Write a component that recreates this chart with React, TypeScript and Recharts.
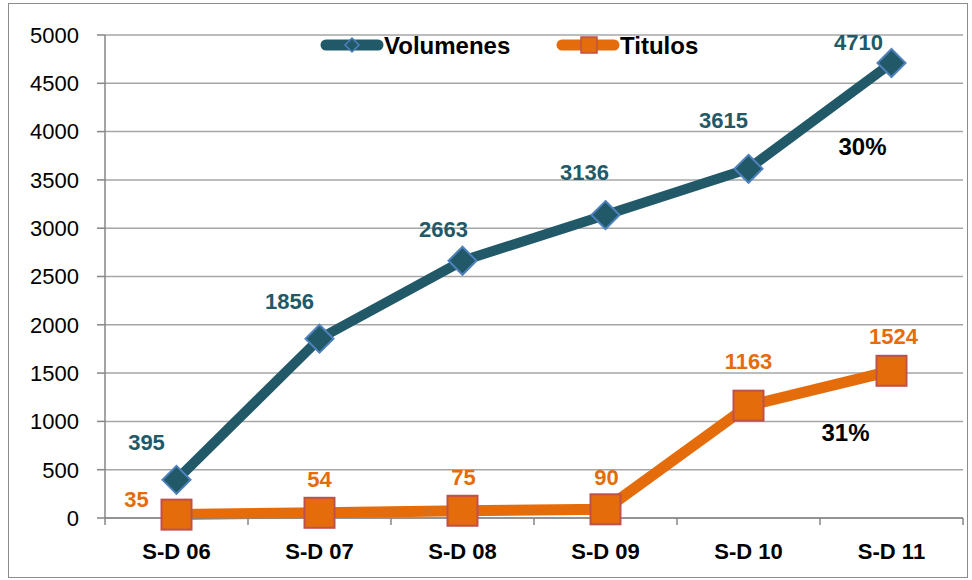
import React from 'react';
import { LineChart, Line, XAxis, YAxis, CartesianGrid, ReferenceDot, Customized } from 'recharts';

const categories = ['S-D 06', 'S-D 07', 'S-D 08', 'S-D 09', 'S-D 10', 'S-D 11'];
const volumenes = [395, 1856, 2663, 3136, 3615, 4710];
const titulos = [35, 54, 75, 90, 1163, 1524];
const yTicks = [0, 500, 1000, 1500, 2000, 2500, 3000, 3500, 4000, 4500, 5000];
const growthLabels = ['30%', '31%'];
const growthAnchors = [3850, 890];

const data = categories.map((c, i) => ({ cat: c, vol: volumenes[i], tit: titulos[i] }));

const W = 958;
const H = 573;
const M = { top: 31, right: 4, left: 0, bottom: 0 };
const Y_W = 96;
const X_H = 59;
const PLOT_BOTTOM = H - X_H;
const BAND = (W - Y_W - M.right) / categories.length;

const FONT = '"Liberation Sans", Arial, sans-serif';
const TEAL = '#215968';
const BLUE = '#4F81BD';
const ORANGE = '#E46C0A';
const RED = '#C0504D';

const volOffsets: [number, number][] = [[-30, -37], [-30, -37], [-19, -31], [-21, -43], [-25, -48], [-33, -21]];
const titOffsets: [number, number][] = [[-40, -15], [0, -33], [1, -33], [1, -32], [0, -44], [2, -34]];
const growthDx = [-29, -46];

const Diamond = (props: any) => {
  const { cx, cy } = props;
  if (cx == null || cy == null) return null;
  const r = 14;
  return (
    <polygon
      points={`${cx},${cy - r} ${cx + r},${cy} ${cx},${cy + r} ${cx - r},${cy}`}
      fill={TEAL}
      stroke={BLUE}
      strokeWidth={2}
    />
  );
};

const Square = (props: any) => {
  const { cx, cy } = props;
  if (cx == null || cy == null) return null;
  const s = 30;
  return <rect x={cx - s / 2} y={cy - s / 2} width={s} height={s} fill={ORANGE} stroke={RED} strokeWidth={2} />;
};

const makeLabel = (offsets: [number, number][], color: string, values: number[]) => (props: any) => {
  const { x, y, index } = props;
  const [dx, dy] = offsets[index] || [0, -20];
  return (
    <text
      x={x + dx}
      y={y + dy}
      textAnchor="middle"
      dominantBaseline="central"
      fill={color}
      fontFamily={FONT}
      fontWeight="bold"
      fontSize={22}
    >
      {values[index]}
    </text>
  );
};

const XTick = (props: any) => {
  const { x, payload, index } = props;
  const left = x - BAND / 2;
  const right = x + BAND / 2;
  return (
    <g>
      <line x1={left} y1={PLOT_BOTTOM} x2={left} y2={PLOT_BOTTOM + 7} stroke="#868686" strokeWidth={1.5} />
      {index === categories.length - 1 && (
        <line x1={right} y1={PLOT_BOTTOM} x2={right} y2={PLOT_BOTTOM + 7} stroke="#868686" strokeWidth={1.5} />
      )}
      <text
        x={x}
        y={PLOT_BOTTOM + 33}
        textAnchor="middle"
        dominantBaseline="central"
        fill="#000"
        fontFamily={FONT}
        fontWeight="bold"
        fontSize={22}
      >
        {payload.value}
      </text>
    </g>
  );
};

const LegendBlock = () => (
  <g fontFamily={FONT} fontWeight="bold" fontSize={24}>
    <line x1={317} y1={41} x2={369} y2={41} stroke={TEAL} strokeWidth={11} strokeLinecap="round" />
    <polygon points="343,34 350,41 343,48 336,41" fill={TEAL} stroke={BLUE} strokeWidth={1.5} />
    <text x={375} y={41} dominantBaseline="central" fill="#000">Volumenes</text>
    <line x1={553} y1={41} x2={605} y2={41} stroke={ORANGE} strokeWidth={11} strokeLinecap="round" />
    <rect x={572} y={33} width={16} height={16} fill={ORANGE} stroke={RED} strokeWidth={1.5} />
    <text x={611} y={41} dominantBaseline="central" fill="#000">Titulos</text>
  </g>
);

const GrowthLabel = (i: number) => (props: any) => {
  const vb = props.viewBox || {};
  const cx = (vb.x || 0) + (vb.width || 0) / 2;
  const cy = (vb.y || 0) + (vb.height || 0) / 2;
  return (
    <text
      x={cx + growthDx[i]}
      y={cy}
      textAnchor="middle"
      dominantBaseline="central"
      fill="#000"
      fontFamily={FONT}
      fontWeight="bold"
      fontSize={24}
    >
      {growthLabels[i]}
    </text>
  );
};

export default function App() {
  return (
    <div
      style={{
        position: 'absolute',
        left: 8,
        top: 3,
        width: W,
        height: H,
        border: '1px solid #8c8c8c',
        background: '#fff',
      }}
    >
      <LineChart width={W} height={H} data={data} margin={M}>
        <CartesianGrid vertical={false} stroke="#a6a6a6" strokeWidth={1.5} />
        <XAxis
          dataKey="cat"
          scale="band"
          height={X_H}
          axisLine={{ stroke: '#868686', strokeWidth: 1.5 }}
          tickLine={false}
          tick={<XTick />}
          interval={0}
        />
        <YAxis
          width={Y_W}
          domain={[0, 5000]}
          ticks={yTicks}
          interval={0}
          axisLine={{ stroke: '#868686', strokeWidth: 1.5 }}
          tickLine={{ stroke: '#868686', strokeWidth: 1.5 }}
          tickSize={8}
          tickMargin={18}
          tick={{ fill: '#000', fontFamily: FONT, fontSize: 22 }}
        />
        <Line
          type="linear"
          dataKey="vol"
          stroke={TEAL}
          strokeWidth={10}
          dot={<Diamond />}
          activeDot={false}
          label={makeLabel(volOffsets, TEAL, volumenes)}
          isAnimationActive={false}
        />
        <Line
          type="linear"
          dataKey="tit"
          stroke={ORANGE}
          strokeWidth={11}
          dot={<Square />}
          activeDot={false}
          label={makeLabel(titOffsets, ORANGE, titulos)}
          isAnimationActive={false}
        />
        {growthAnchors.map((v, i) => (
          <ReferenceDot
            key={i}
            x={categories[categories.length - 1]}
            y={v}
            r={1}
            fill="none"
            stroke="none"
            label={{ content: GrowthLabel(i) }}
          />
        ))}
        <Customized component={LegendBlock} />
      </LineChart>
    </div>
  );
}
